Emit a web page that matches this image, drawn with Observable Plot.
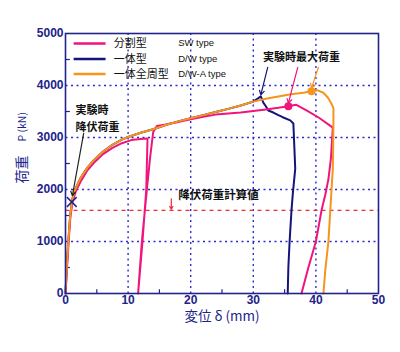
<!DOCTYPE html>
<html><head><meta charset="utf-8">
<script src="https://cdn.jsdelivr.net/npm/d3@7"></script>
<script src="https://cdn.jsdelivr.net/npm/@observablehq/plot@0.6"></script>
<style>body{margin:0;background:#fff}</style>
</head><body><div id="chart"></div>
<script>
// ---- data ----
const xTicks = [0, 10, 20, 30, 40, 50];
const yTicks = [0, 1000, 2000, 3000, 4000, 5000];
const xMinor = [5, 15, 25, 35, 45];
const yMinor = [500, 1500, 2500, 3500, 4500];

// 分割型 SW type
const swDisp = [0, 0.25, 0.5, 0.8, 1.15, 1.7, 2.5, 3.5, 4.5, 6, 7.5, 9, 10.5, 12, 13.1, 12.9, 12.3, 11.6, 12.2, 13.0, 13.5, 14.0, 14.6, 16, 18, 20, 22, 24, 26, 28, 30, 32, 34, 35.6, 36.8, 38.5, 40.5, 42.7, 42.4, 42.0, 41.5, 40.9, 40.0, 38.8, 37.7];
const swLoad = [0, 500, 1000, 1500, 1780, 1980, 2170, 2370, 2510, 2680, 2800, 2890, 2950, 2970, 2980, 2000, 1000, 0, 1000, 2000, 2600, 3100, 3220, 3250, 3300, 3350, 3400, 3440, 3460, 3480, 3510, 3540, 3570, 3600, 3630, 3520, 3380, 3190, 2600, 2200, 1900, 1600, 1000, 500, 0];
// 一体型 D/W type
const dwDisp = [0, 0.2, 0.45, 0.75, 1.1, 1.6, 2.4, 3.5, 4.5, 6, 7.5, 9, 10, 12, 14, 16, 18, 20, 22, 24, 26, 28, 30, 30.6, 31.2, 31.6, 32.0, 32.4, 33.2, 34.0, 34.7, 35.9, 36.4, 36.7, 36.3, 36.1, 35.8, 35.6, 35.5];
const dwLoad = [0, 500, 1000, 1500, 1820, 2020, 2220, 2420, 2560, 2730, 2860, 2960, 3010, 3090, 3160, 3240, 3310, 3370, 3430, 3490, 3550, 3615, 3690, 3740, 3790, 3670, 3600, 3520, 3480, 3430, 3390, 3330, 3270, 2400, 1900, 1600, 1000, 500, 0];
// 一体全周型 D/W-A type
const dwaDisp = [0, 0.2, 0.45, 0.75, 1.1, 1.6, 2.4, 3.5, 4.5, 6, 7.5, 9, 10, 12, 14, 16, 18, 20, 22, 24, 26, 28, 30, 32, 34, 36, 38, 39.3, 40.2, 41.2, 41.9, 42.5, 42.8, 42.8, 42.7, 42.3, 42.0, 41.5, 41.2];
const dwaLoad = [0, 500, 1000, 1500, 1820, 2020, 2220, 2420, 2560, 2730, 2860, 2960, 3010, 3090, 3160, 3240, 3310, 3370, 3430, 3490, 3550, 3615, 3690, 3745, 3790, 3830, 3860, 3890, 3910, 3860, 3770, 3650, 3560, 3200, 2400, 1600, 1000, 450, 0];

const seriesNames = ["分割型", "一体型", "一体全周型"];
const seriesTypes = ["SW type", "D/W type", "D/W-A type"];
const colors = ["#f0147c", "#14147a", "#f7941d"];

const yieldCalc = 1600;          // 降伏荷重計算値
const maxDisp = [31.2, 35.6, 39.3]; // 実験時最大荷重 (D/W, SW, D/W-A)
const maxLoad = [3790, 3600, 3890];
const yieldDisp = [1.0];
const yieldLoad = [1760];

// ---- build tables ----
const mk = (xs, ys) => xs.map((x, i) => ({x, y: ys[i]}));
const sw = mk(swDisp, swLoad), dw = mk(dwDisp, dwLoad), dwa = mk(dwaDisp, dwaLoad);
const legend = seriesNames.map((n, i) => ({name: n, type: seriesTypes[i], color: colors[i], y: [4810, 4510, 4220][i]}));
const xDom = [xTicks[0], xTicks[xTicks.length - 1]];
const yDom = [yTicks[0], yTicks[yTicks.length - 1]];

const navy = "#22228a";
const gridC = "#2b2bd0";
const jp = "'Noto Sans CJK JP', sans-serif";
const num = "'Liberation Sans', Arial, sans-serif";

const chart = Plot.plot({
  width: 400, height: 352,
  marginLeft: 65, marginRight: 22, marginTop: 33, marginBottom: 59,
  x: {domain: xDom, label: null},
  y: {domain: yDom, label: null},
  style: {background: "white", fontFamily: jp},
  marks: [
    // dotted grid (links, so they go through the scales)
    Plot.link(xTicks.slice(1, -1), {x1: d => d, x2: d => d, y1: yDom[0], y2: yDom[1], stroke: gridC, strokeDasharray: "2,3.5", strokeWidth: 1.4}),
    Plot.link(yTicks.slice(1, -1), {y1: d => d, y2: d => d, x1: xDom[0], x2: xDom[1], stroke: gridC, strokeDasharray: "2,3.5", strokeWidth: 1.4}),
    Plot.link([yieldCalc], {y1: d => d, y2: d => d, x1: xDom[0], x2: xDom[1], stroke: "#e8303a", strokeDasharray: "4,4", strokeWidth: 1.3}),
    // minor inward ticks
    Plot.link(xMinor, {x1: d => d, x2: d => d, y1: 0, y2: 80, stroke: navy, strokeWidth: 1.2}),
    Plot.link(yMinor, {y1: d => d, y2: d => d, x1: 0, x2: 0.7, stroke: navy, strokeWidth: 1.2}),
    // curves
    Plot.line(dw, {x: "x", y: "y", stroke: colors[1], strokeWidth: 2}),
    Plot.line(sw, {x: "x", y: "y", stroke: colors[0], strokeWidth: 2}),
    Plot.line(dwa, {x: "x", y: "y", stroke: colors[2], strokeWidth: 2}),
    // max markers
    Plot.dot([1], {x: () => maxDisp[1], y: () => maxLoad[1], r: 4, fill: colors[0]}),
    Plot.dot([2], {x: () => maxDisp[2], y: () => maxLoad[2], r: 4, fill: colors[2]}),
    Plot.dot(yieldDisp, {x: d => d, y: (d, i) => yieldLoad[i], symbol: "times", r: 4.5, stroke: navy, strokeWidth: 1.5}),
    // annotation arrows
    Plot.arrow([0], {x1: 32.3, y1: 4350, x2: () => maxDisp[0], y2: () => maxLoad[0] + 30, stroke: colors[1], strokeWidth: 1.2, headLength: 6}),
    Plot.arrow([0], {x1: 37.1, y1: 4350, x2: () => maxDisp[1], y2: () => maxLoad[1] + 60, stroke: colors[0], strokeWidth: 1.2, headLength: 6}),
    Plot.arrow([0], {x1: 40.4, y1: 4350, x2: () => maxDisp[2], y2: () => maxLoad[2] + 60, stroke: colors[2], strokeWidth: 1.2, headLength: 6}),
    Plot.arrow([0], {x1: 2.9, y1: 3080, x2: () => yieldDisp[0] + 0.1, y2: () => yieldLoad[0] + 120, stroke: "#222", strokeWidth: 1.2, headLength: 6}),
    Plot.arrow([0], {x1: 16.9, y1: 1820, x2: 16.9, y2: yieldCalc + 20, stroke: "#e8303a", strokeWidth: 1.2, headLength: 4}),
    Plot.text(["実験時最大荷重"], {x: 37.7, y: 4540, fontSize: 11, fontWeight: "bold", fill: "#111"}),
    Plot.text(["実験時", "降伏荷重"], {x: 1.6, y: (d, i) => [3520, 3190][i], textAnchor: "start", fontSize: 11, fontWeight: "bold", fill: "#111"}),
    Plot.text(["降伏荷重計算値"], {x: 18.0, y: 1880, textAnchor: "start", fontSize: 11.5, fontWeight: "bold", fill: "#111"}),
    // legend
    Plot.link(legend, {x1: 1.3, x2: 6.4, y1: "y", y2: "y", stroke: "color", strokeWidth: 2.5}),
    Plot.text(legend, {x: 7.7, y: "y", text: "name", textAnchor: "start", fontSize: 11, lineHeight: 1, fill: "#111"}),
    Plot.text(legend, {x: 18.0, y: "y", text: "type", textAnchor: "start", fontSize: 9.5, fill: "#111", fontFamily: num}),
    // frame & axes
    Plot.frame({stroke: navy, strokeWidth: 1.6}),
    Plot.axisX(xTicks, {tickSize: 0, tickPadding: 2, fill: navy, fontSize: 12, fontWeight: "bold", fontFamily: num, label: null, tickFormat: d => String(d)}),
    Plot.axisY(yTicks, {tickSize: 0, tickPadding: 2, fill: navy, fontSize: 12, fontWeight: "bold", fontFamily: num, label: null, tickFormat: d => String(d)}),
    Plot.text(["変位 δ (mm)"], {frameAnchor: "bottom", dy: 27, fontSize: 13.5, lineHeight: 1, fill: navy}),
    Plot.text(["荷重"], {frameAnchor: "left", dx: -43, dy: 20, rotate: -90, fontSize: 14, fill: navy}),
    Plot.text(["P (kN)"], {frameAnchor: "left", dx: -43, dy: -22, rotate: -90, fontSize: 10.5, fill: navy})
  ]
});
document.getElementById("chart").appendChild(chart);
</script>
</body></html>
